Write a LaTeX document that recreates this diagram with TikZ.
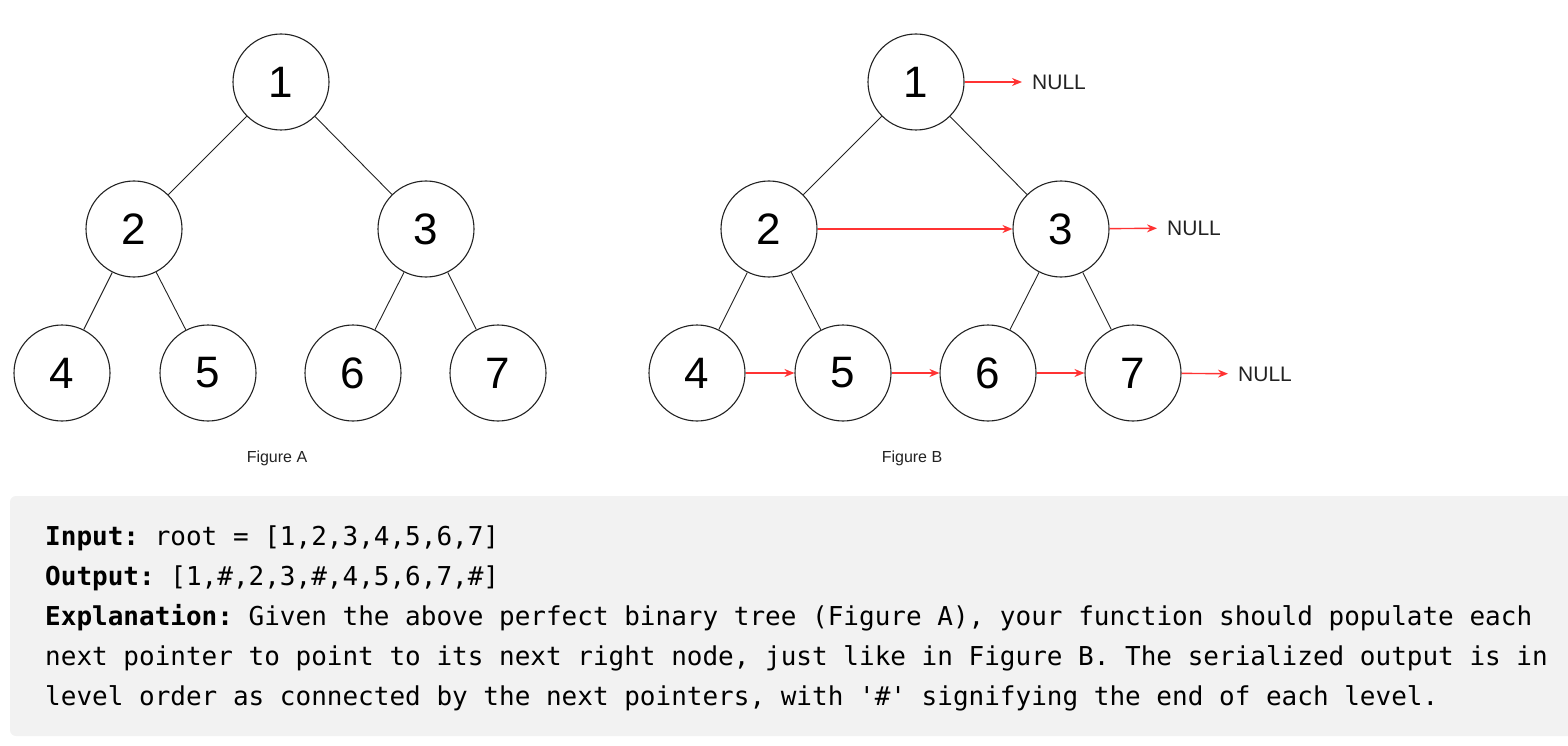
\documentclass[tikz,border=0pt]{standalone}
\usepackage{fontspec}
\setmainfont{Liberation Sans}
\newfontfamily\codefont{DejaVu Sans Mono}
\usetikzlibrary{arrows.meta}
\definecolor{ptrred}{RGB}{255,51,51}
\definecolor{boxgray}{RGB}{242,242,242}
\definecolor{inkgray}{RGB}{34,34,34}
\frenchspacing
\begin{document}
\begin{tikzpicture}[x=1pt,y=-1pt,
  treenode/.style={circle, draw=inkgray, line width=1.1pt, minimum size=96pt,
    inner sep=0pt, font=\fontsize{44}{44}\selectfont},
  edge/.style={draw=inkgray, line width=0.9pt},
  nextptr/.style={draw=ptrred, line width=1.4pt, -{Stealth[length=10pt,width=8pt]}},
  nulltag/.style={anchor=west, inner xsep=10pt, inner ysep=0pt,
    font=\fontsize{21}{21}\selectfont, text=inkgray},
  caption/.style={inner sep=0pt, font=\fontsize{16}{16}\selectfont, text=inkgray},
  codeline/.style={anchor=base west, inner sep=0pt,
    font=\codefont\fontsize{26}{26}\selectfont}]
\useasboundingbox (0,0) rectangle (1568,746);

% ---------- Figure A: the plain perfect binary tree ----------
\node[treenode] (a1) at (281,82)  {1};
\node[treenode] (a2) at (134,229) {2};
\node[treenode] (a3) at (426,229) {3};
\node[treenode] (a4) at (62,373)  {4};
\node[treenode] (a5) at (208,373) {5};
\node[treenode] (a6) at (353,373) {6};
\node[treenode] (a7) at (498,373) {7};
\draw[edge] (a1) -- (a2);
\draw[edge] (a1) -- (a3);
\draw[edge] (a2) -- (a4);
\draw[edge] (a2) -- (a5);
\draw[edge] (a3) -- (a6);
\draw[edge] (a3) -- (a7);
\node[caption] (capA) at (277,458) {Figure A};

% ---------- Figure B: the same tree with next pointers ----------
\node[treenode] (b1) at (916,82)   {1};
\node[treenode] (b2) at (769,229)  {2};
\node[treenode] (b3) at (1061,229) {3};
\node[treenode] (b4) at (697,373)  {4};
\node[treenode] (b5) at (843,373)  {5};
\node[treenode] (b6) at (988,373)  {6};
\node[treenode] (b7) at (1133,373) {7};
\draw[edge] (b1) -- (b2);
\draw[edge] (b1) -- (b3);
\draw[edge] (b2) -- (b4);
\draw[edge] (b2) -- (b5);
\draw[edge] (b3) -- (b6);
\draw[edge] (b3) -- (b7);

\node[nulltag] (null1) at (1022,82)  {NULL};
\node[nulltag] (null2) at (1157,228) {NULL};
\node[nulltag] (null3) at (1228,374) {NULL};

\draw[nextptr] (b1) -- (null1);
\draw[nextptr] (b2) -- (b3);
\draw[nextptr] (b3) -- (null2);
\draw[nextptr] (b4) -- (b5);
\draw[nextptr] (b5) -- (b6);
\draw[nextptr] (b6) -- (b7);
\draw[nextptr] (b7) -- (null3);
\node[caption] (capB) at (912,458) {Figure B};

% ---------- Example text block ----------
\fill[boxgray, rounded corners=6pt] (10,496) rectangle (1590,736);
\node[codeline] (l1) at (45,545) {\bfseries Input:\mdseries{} root = [1,2,3,4,5,6,7]};
\node[codeline] (l2) at (45,585) {\bfseries Output:\mdseries{} [1,\#,2,3,\#,4,5,6,7,\#]};
\node[codeline] (l3) at (45,625) {\bfseries Explanation:\mdseries{} Given the above perfect binary tree (Figure A), your function should populate each};
\node[codeline] (l4) at (45,665) {next pointer to point to its next right node, just like in Figure B. The serialized output is in};
\node[codeline] (l5) at (45,705) {level order as connected by the next pointers, with \textquotesingle\#\textquotesingle{} signifying the end of each level.};
\end{tikzpicture}
\end{document}
